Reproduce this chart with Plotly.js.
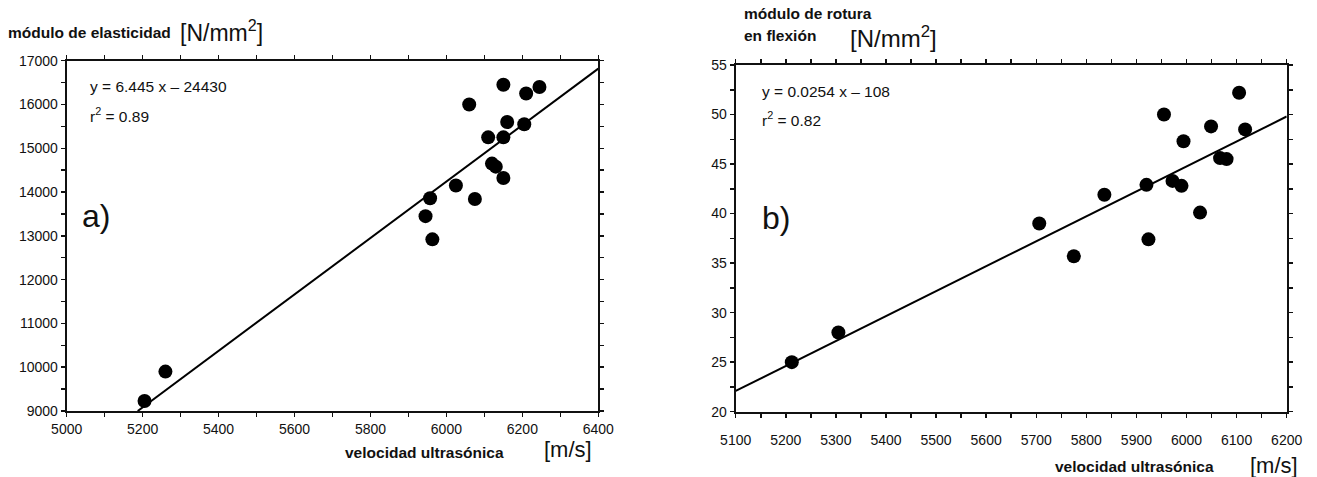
<!DOCTYPE html>
<html>
<head>
<meta charset="utf-8">
<script src="https://cdn.plot.ly/plotly-3.0.1.min.js"></script>
<style>html,body{margin:0;padding:0;background:#fff;}#chart{width:1317px;height:477px;}</style>
</head>
<body>
<div id="chart"></div>
<script>
// ---- Data ----
// a) módulo de elasticidad vs velocidad ultrasónica
const velA = [5205, 5260, 5945, 5957, 5963, 6025, 6060, 6075, 6110, 6120, 6130, 6150, 6150, 6150, 6160, 6205, 6210, 6245];
const moeA = [9230, 9900, 13450, 13860, 12920, 14150, 16000, 13840, 15250, 14650, 14580, 15250, 14320, 16450, 15600, 15550, 16250, 16400];
const fitAx = [5187, 6400];
const fitAy = [9000, 16818];

// b) módulo de rotura en flexión vs velocidad ultrasónica
const velB = [5212, 5305, 5706, 5775, 5836, 5920, 5924, 5955, 5972, 5990, 5994, 6027, 6049, 6067, 6080, 6105, 6117];
const morB = [25.0, 28.0, 39.0, 35.7, 41.9, 42.9, 37.4, 50.0, 43.3, 42.8, 47.3, 40.1, 48.8, 45.6, 45.5, 52.2, 48.5];
const fitBx = [5100, 6200];
const fitBy = [22.1, 49.8];

const W = 1317, H = 477;
const px = x => x / W;
const py = y => 1 - y / H;
const FONT = 'Liberation Sans, Arial, sans-serif';

const axisCommon = {
  showline: true, linecolor: '#111', linewidth: 2, mirror: 'ticks',
  ticks: 'outside', ticklen: 4, tickwidth: 1.5, tickcolor: '#111',
  showgrid: false, zeroline: false, fixedrange: true,
  tickfont: {family: FONT, size: 14, color: '#111'}
};
const minorCommon = {ticks: 'outside', ticklen: 4, tickwidth: 1.5, tickcolor: '#111', showgrid: false};

const traces = [
  {x: velA, y: moeA, xaxis: 'x', yaxis: 'y', mode: 'markers', type: 'scatter',
   marker: {color: '#000', size: 14}, hoverinfo: 'skip'},
  {x: fitAx, y: fitAy, xaxis: 'x', yaxis: 'y', mode: 'lines', type: 'scatter',
   line: {color: '#000', width: 2}, hoverinfo: 'skip'},
  {x: velB, y: morB, xaxis: 'x2', yaxis: 'y2', mode: 'markers', type: 'scatter',
   marker: {color: '#000', size: 14}, hoverinfo: 'skip'},
  {x: fitBx, y: fitBy, xaxis: 'x2', yaxis: 'y2', mode: 'lines', type: 'scatter',
   line: {color: '#000', width: 2}, hoverinfo: 'skip'}
];

function ann(x, y, text, size, bold, xanchor) {
  return {xref: 'paper', yref: 'paper', x: px(x), y: py(y), text: bold ? '<b>' + text + '</b>' : text,
    showarrow: false, xanchor: xanchor || 'left', yanchor: 'middle',
    font: {family: FONT, size: size, color: '#111'}};
}

const layout = {
  width: W, height: H,
  margin: {l: 0, r: 0, t: 0, b: 0},
  paper_bgcolor: '#fff', plot_bgcolor: '#fff',
  showlegend: false,
  xaxis: Object.assign({}, axisCommon, {domain: [px(66.7), px(598.3)], anchor: 'y',
    range: [5000, 6400], dtick: 200, tick0: 5000, tickformat: 'd',
    minor: Object.assign({dtick: 100}, minorCommon)}),
  yaxis: Object.assign({}, axisCommon, {domain: [py(411), py(60.7)], anchor: 'x',
    range: [9000, 17000], dtick: 1000, tick0: 9000, tickformat: 'd',
    minor: Object.assign({dtick: 500}, minorCommon)}),
  xaxis2: Object.assign({}, axisCommon, {domain: [px(735.7), px(1286.7)], anchor: 'y2',
    range: [5100, 6200], dtick: 100, tick0: 5100, tickformat: 'd', ticklabelstandoff: 10,
    minor: Object.assign({dtick: 50}, minorCommon)}),
  yaxis2: Object.assign({}, axisCommon, {domain: [py(411.7), py(65)], anchor: 'x2',
    range: [20, 55], dtick: 5, tick0: 20,
    minor: Object.assign({dtick: 2.5}, minorCommon)}),
  annotations: [
    ann(6, 32, 'módulo de elasticidad', 15.5, true),
    ann(178, 31, '[N/mm<sup>2</sup>]', 23, false),
    ann(343, 452, 'velocidad ultrasónica', 15.5, true),
    ann(542, 449, '[m/s]', 22, false),
    ann(88, 87, 'y = 6.445 x – 24430', 15.5, false),
    ann(88, 115, 'r<sup>2</sup> = 0.89', 15.5, false),
    ann(80, 216, 'a)', 32, false),

    ann(742, 14, 'módulo de rotura', 15.5, true),
    ann(742, 35, 'en flexión', 15.5, true),
    ann(848, 37, '[N/mm<sup>2</sup>]', 24, false),
    ann(1053, 466, 'velocidad ultrasónica', 15.5, true),
    ann(1248, 465, '[m/s]', 22, false),
    ann(760, 91, 'y = 0.0254 x – 108', 15.5, false),
    ann(760, 119, 'r<sup>2</sup> = 0.82', 15.5, false),
    ann(760, 218, 'b)', 32, false)
  ]
};

Plotly.newPlot('chart', traces, layout, {displayModeBar: false, staticPlot: true});
</script>
</body>
</html>
